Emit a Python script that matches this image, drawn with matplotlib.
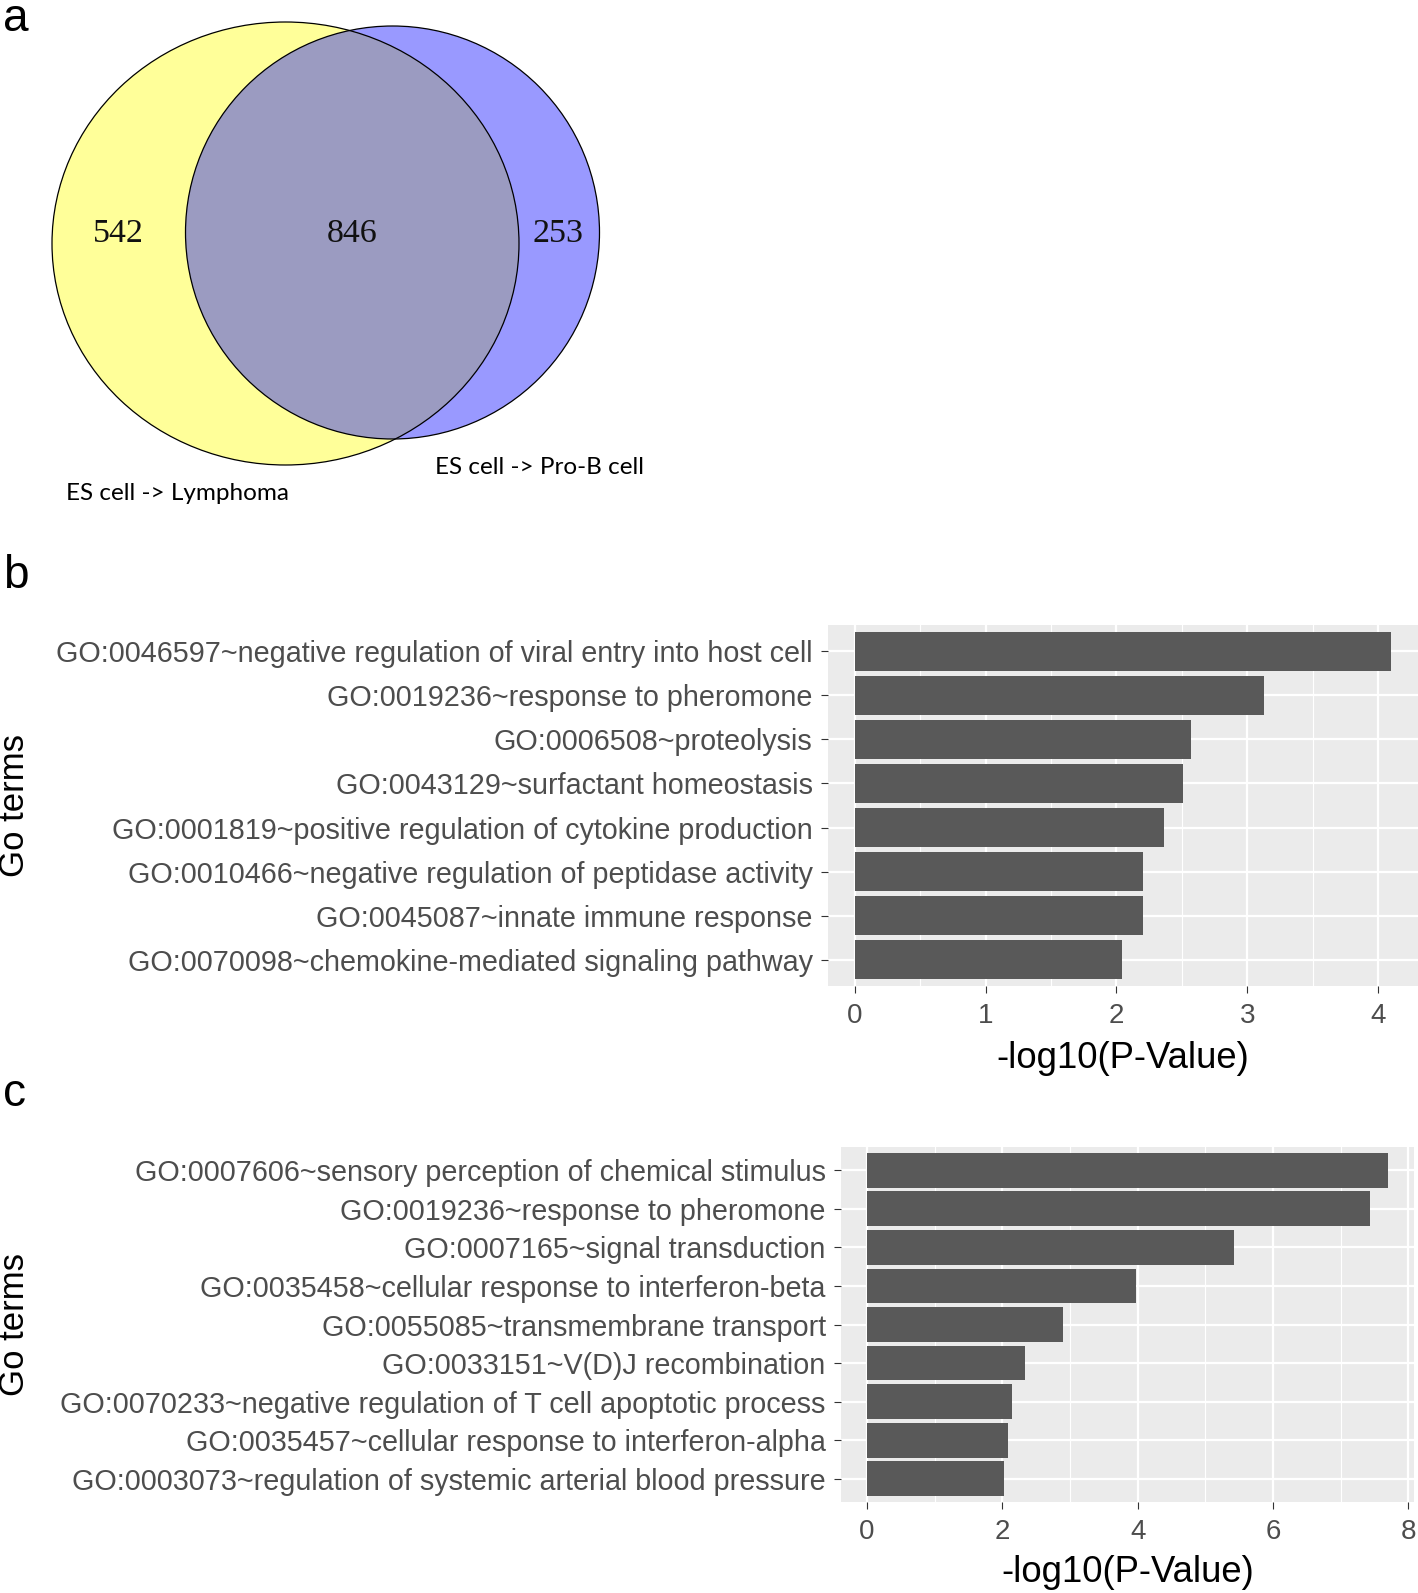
import numpy as np
import matplotlib
matplotlib.use("Agg")
import matplotlib.pyplot as plt
from matplotlib.patches import Ellipse

# ---------------- data ----------------
venn_counts = [542, 846, 253]          # only A, A&B, only B
venn_sets = ["ES cell -> Lymphoma", "ES cell -> Pro-B cell"]

b_terms = [
    "GO:0046597~negative regulation of viral entry into host cell",
    "GO:0019236~response to pheromone",
    "GO:0006508~proteolysis",
    "GO:0043129~surfactant homeostasis",
    "GO:0001819~positive regulation of cytokine production",
    "GO:0010466~negative regulation of peptidase activity",
    "GO:0045087~innate immune response",
    "GO:0070098~chemokine-mediated signaling pathway",
]
b_values = [4.10, 3.13, 2.57, 2.51, 2.36, 2.20, 2.20, 2.04]
b_ticks = [0, 1, 2, 3, 4]

c_terms = [
    "GO:0007606~sensory perception of chemical stimulus",
    "GO:0019236~response to pheromone",
    "GO:0007165~signal transduction",
    "GO:0035458~cellular response to interferon-beta",
    "GO:0055085~transmembrane transport",
    "GO:0033151~V(D)J recombination",
    "GO:0070233~negative regulation of T cell apoptotic process",
    "GO:0035457~cellular response to interferon-alpha",
    "GO:0003073~regulation of systemic arterial blood pressure",
]
c_values = [7.70, 7.43, 5.42, 3.97, 2.90, 2.33, 2.15, 2.08, 2.02]
c_ticks = [0, 2, 4, 6, 8]

# ---------------- figure ----------------
W, H = 1418, 1593
plt.rcParams['font.family'] = ['Liberation Sans', 'DejaVu Sans']
fig = plt.figure(figsize=(W / 100, H / 100), dpi=100)
fig.patch.set_facecolor('white')


def frac(l, t, r, b):
    return [l / W, 1 - b / H, (r - l) / W, (b - t) / H]


# ---------------- panel a: Venn ----------------
ax0 = fig.add_axes([0, 0, 1, 1])
ax0.set_xlim(0, W)
ax0.set_ylim(H, 0)
ax0.axis('off')
ax0.patch.set_alpha(0)

YC, YR = (285.5, 243.5), (233.5, 221.5)
BC, BR = (392.5, 232.5), (207, 206.5)
yellow = Ellipse(YC, 2 * YR[0], 2 * YR[1], facecolor='#FFFF99',
                 edgecolor='none', zorder=1)
blue = Ellipse(BC, 2 * BR[0], 2 * BR[1], facecolor='#9999FF',
               edgecolor='none', zorder=1)
ax0.add_patch(yellow)
ax0.add_patch(blue)
overlap = Ellipse(BC, 2 * BR[0], 2 * BR[1], facecolor='#9B9BC1',
                  edgecolor='none', zorder=2)
ax0.add_patch(overlap)
overlap.set_clip_path(yellow)
for c, r in [(YC, YR), (BC, BR)]:
    e = Ellipse(c, 2 * r[0], 2 * r[1], facecolor='none', edgecolor='black',
                linewidth=0.9, zorder=3)
    ax0.add_patch(e)

for x, v in zip([118, 352, 558], venn_counts):
    ax0.text(x, 234, str(v), ha='center', va='center', fontsize=24.5,
             family='Liberation Serif', color='#111111', zorder=4)

ax0.text(66, 493, venn_sets[0], ha='left', va='center', fontsize=17.5,
         family=['Lato', 'DejaVu Sans'], color='black')
ax0.text(435, 467, venn_sets[1], ha='left', va='center', fontsize=17.5,
         family=['Lato', 'DejaVu Sans'], color='black')

# panel letters
fig.text(3 / W, 1 - 31 / H, 'a', fontsize=33, ha='left', va='baseline')
fig.text(3 / W, 1 - 588 / H, 'b', fontsize=33, ha='left', va='baseline')
fig.text(3 / W, 1 - 1106 / H, 'c', fontsize=33, ha='left', va='baseline')


# ---------------- bar panels ----------------
def bar_panel(rect, terms, values, ticks, minor, xtitle_y, ylab_y, xcenter):
    ax = fig.add_axes(rect)
    ax.set_facecolor('#EBEBEB')
    n = len(terms)
    ypos = np.arange(n)
    vmax = max(values)
    ax.set_xlim(-0.05 * vmax, 1.05 * vmax)
    ax.set_ylim(n - 1 + 0.6, -0.6)
    ax.set_xticks(ticks)
    ax.set_xticks(minor, minor=True)
    ax.set_yticks(ypos)
    ax.set_yticklabels(terms)
    ax.grid(True, which='major', color='white', linewidth=1.6)
    ax.grid(True, which='minor', axis='x', color='white', linewidth=0.8)
    ax.set_axisbelow(True)
    ax.barh(ypos, values, height=0.9, color='#595959', zorder=3)
    for s in ax.spines.values():
        s.set_visible(False)
    ax.tick_params(axis='both', which='major', length=5, width=0.8,
                   color='#333333', labelcolor='#4D4D4D')
    ax.tick_params(axis='y', labelsize=20.7, pad=6)
    ax.tick_params(axis='x', labelsize=20, pad=7)
    ax.tick_params(which='minor', length=0)
    fig.text(xcenter / W, 1 - xtitle_y / H, '-log10(P-Value)', ha='center',
             va='center', fontsize=26.3)
    fig.text(15 / W, 1 - ylab_y / H, 'Go terms', ha='center', va='center',
             rotation=90, fontsize=25)
    return ax


bar_panel(frac(828, 625, 1418, 986), b_terms, b_values, b_ticks,
          [0.5, 1.5, 2.5, 3.5], 1058, 805.5, 1123)
bar_panel(frac(841, 1147, 1414, 1502), c_terms, c_values, c_ticks,
          [1, 3, 5, 7], 1573, 1324.5, 1127.5)

fig.savefig('out.png', dpi=100)
